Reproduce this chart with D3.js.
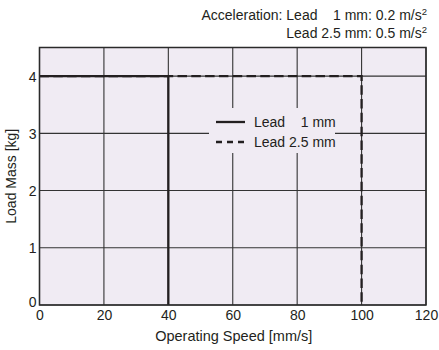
<!DOCTYPE html>
<html><head><meta charset="utf-8">
<script src="https://cdn.jsdelivr.net/npm/d3@7"></script>
<style>
body{margin:0;background:#fff;}
text{font-family:"Liberation Sans Narrow","Arial Narrow","Liberation Sans",sans-serif;fill:#231f20;}
</style></head><body>
<svg id="c" width="439" height="350"></svg>
<script>
const xTicks = [0, 20, 40, 60, 80, 100, 120];
const yTicks = [0, 1, 2, 3, 4];
const seriesNames = ["Lead    1 mm", "Lead 2.5 mm"];
const lead1Speed = [0, 40, 40];
const lead1Load = [4, 4, 0];
const lead25Speed = [0, 100, 100];
const lead25Load = [4, 4, 0];
const titleLines = ["Acceleration: Lead    1 mm: 0.2 m/s", "Lead 2.5 mm: 0.5 m/s"];

const svg = d3.select("#c");
const L = 39.5, R = 426, T = 47.5, B = 305;
const x = d3.scaleLinear().domain([0, 120]).range([L, R]);
const y = d3.scaleLinear().domain([0, 4.5]).range([B, T]);
const ink = "#231f20";
const fs = 14;

svg.append("rect").attr("x", L).attr("y", T).attr("width", R - L).attr("height", B - T).attr("fill", "#f0ebf3");

// grid
const g = svg.append("g");
g.selectAll("line.v").data(xTicks).join("line")
  .attr("x1", d => x(d)).attr("x2", d => x(d)).attr("y1", T).attr("y2", B)
  .attr("stroke", "#333").attr("stroke-width", 1.1);
g.selectAll("line.h").data(yTicks).join("line")
  .attr("y1", d => y(d)).attr("y2", d => y(d)).attr("x1", L).attr("x2", R)
  .attr("stroke", "#333").attr("stroke-width", 1.1);

// axes labels via d3 axes
const xa = svg.append("g").attr("transform", `translate(0,${B})`)
  .call(d3.axisBottom(x).tickValues(xTicks).tickFormat(d3.format("d")).tickSize(0).tickPadding(5));
xa.select(".domain").remove();
xa.selectAll("text").attr("font-size", fs).attr("font-family", null).style("fill", ink);
const ya = svg.append("g").attr("transform", `translate(${L},0)`)
  .call(d3.axisLeft(y).tickValues(yTicks).tickFormat(d3.format("d")).tickSize(0).tickPadding(3));
ya.select(".domain").remove();
ya.selectAll("text").attr("font-size", fs).attr("font-family", null).style("fill", ink)
  .attr("dy", d => d === 0 ? "0.1em" : "0.35em");

// series lines
const line = d3.line().x(d => x(d[0])).y(d => y(d[1]));
svg.append("path").datum(d3.zip(lead25Speed, lead25Load)).attr("d", line)
  .attr("fill", "none").attr("stroke", ink).attr("stroke-width", 2.3).attr("stroke-dasharray", "9.5,4.3");
svg.append("path").datum(d3.zip(lead1Speed, lead1Load)).attr("d", line)
  .attr("fill", "none").attr("stroke", ink).attr("stroke-width", 2.3);

// border
svg.append("rect").attr("x", L).attr("y", T).attr("width", R - L).attr("height", B - T)
  .attr("fill", "none").attr("stroke", "#2a2a2a").attr("stroke-width", 1.5);

// legend
const lg = svg.append("g");
lg.append("rect").attr("x", 209).attr("y", 108).attr("width", 126).attr("height", 45).attr("fill", "#f0ebf3");
seriesNames.forEach((n, i) => {
  const yy = 122 + i * 20;
  lg.append("line").attr("x1", 216).attr("x2", 245).attr("y1", yy).attr("y2", yy)
    .attr("stroke", ink).attr("stroke-width", 2.3).attr("stroke-dasharray", i ? "6,5" : null);
  lg.append("text").attr("x", 254).attr("y", yy + 5).attr("font-size", fs)
    .style("white-space", "pre").text(n);
});

// title
titleLines.forEach((t, i) => {
  const tx = svg.append("text").attr("x", 427).attr("y", 20 + i * 18).attr("font-size", fs)
    .attr("text-anchor", "end").style("white-space", "pre");
  tx.append("tspan").text(t);
  tx.append("tspan").attr("dy", -5).attr("font-size", 9.5).text("2");
});

// axis titles
svg.append("text").attr("x", (L + R) / 2 + 1).attr("y", 341).attr("text-anchor", "middle").attr("font-size", fs + 0.5)
  .text("Operating Speed [mm/s]");
svg.append("text").attr("transform", `translate(16,${(T + B) / 2}) rotate(-90)`).attr("text-anchor", "middle")
  .attr("font-size", fs).text("Load Mass [kg]");
</script>
</body></html>
